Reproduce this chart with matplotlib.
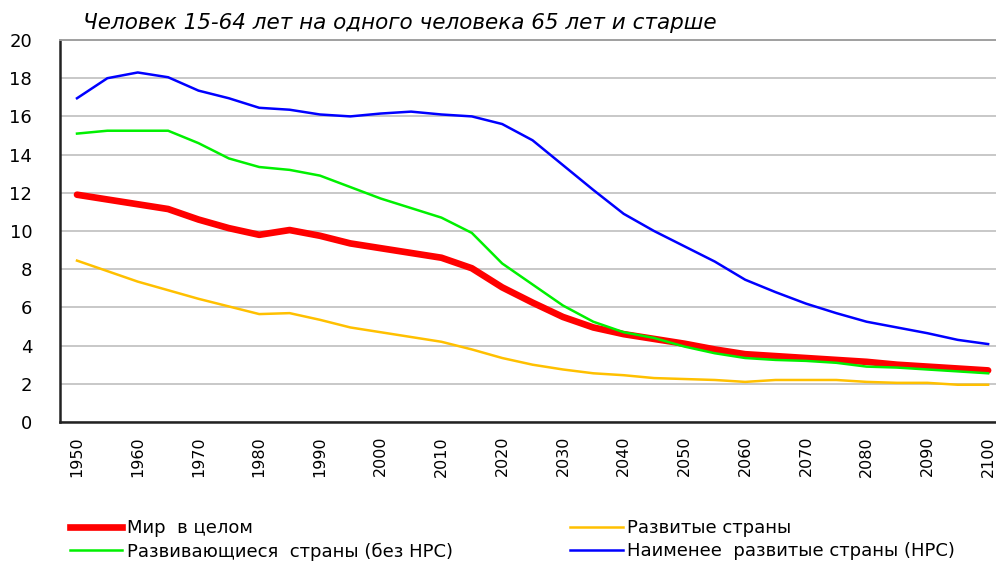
import matplotlib
matplotlib.use("Agg")
import matplotlib.pyplot as plt
from matplotlib.lines import Line2D

years = list(range(1950, 2101, 5))

world = [11.9, 11.65, 11.4, 11.15, 10.6, 10.15, 9.8, 10.05, 9.75, 9.35,
         9.1, 8.85, 8.6, 8.05, 7.05, 6.25, 5.5, 4.95, 4.6, 4.35,
         4.1, 3.8, 3.55, 3.45, 3.35, 3.25, 3.15, 3.0, 2.9, 2.8, 2.7]
developed = [8.45, 7.9, 7.35, 6.9, 6.45, 6.05, 5.65, 5.7, 5.35, 4.95,
             4.7, 4.45, 4.2, 3.8, 3.35, 3.0, 2.75, 2.55, 2.45, 2.3,
             2.25, 2.2, 2.1, 2.2, 2.2, 2.2, 2.1, 2.05, 2.05, 1.95, 1.95]
developing = [15.1, 15.25, 15.25, 15.25, 14.6, 13.8, 13.35, 13.2, 12.9, 12.3,
              11.7, 11.2, 10.7, 9.9, 8.3, 7.2, 6.1, 5.25, 4.7, 4.4,
              3.95, 3.6, 3.35, 3.25, 3.2, 3.1, 2.9, 2.85, 2.75, 2.65, 2.55]
least = [16.95, 18.0, 18.3, 18.05, 17.35, 16.95, 16.45, 16.35, 16.1, 16.0,
         16.15, 16.25, 16.1, 16.0, 15.6, 14.75, 13.45, 12.15, 10.9, 10.0,
         9.2, 8.4, 7.45, 6.8, 6.2, 5.7, 5.25, 4.95, 4.65, 4.3, 4.08]

labels = ["Мир  в целом", "Развивающиеся  страны (без НРС)",
          "Развитые страны", "Наименее  развитые страны (НРС)"]
title = "Человек 15-64 лет на одного человека 65 лет и старше"
x_ticks = list(range(1950, 2101, 10))
y_ticks = list(range(0, 21, 2))

plt.rcParams['font.family'] = ['DejaVu Sans']

fig = plt.figure(figsize=(9.96, 5.63), dpi=100)
ax = fig.add_axes([60/996, (563-422)/563, (996-60)/996, (422-40)/563])

c_world, c_dev, c_devg, c_least = "#ff0000", "#ffc000", "#00f000", "#0000ff"
ax.plot(years, developed, color=c_dev, lw=1.8, zorder=3)
ax.plot(years, least, color=c_least, lw=1.8, zorder=3)
ax.plot(years, developing, color=c_devg, lw=1.8, zorder=4)
ax.plot(years, world, color=c_world, lw=4.8, zorder=3, solid_capstyle='round')

ax.set_xlim(1947.2, 2101.3)
ax.set_ylim(0, 20)
ax.set_yticks(y_ticks)
ax.set_yticklabels([str(v) for v in y_ticks], fontsize=13)
ax.set_xticks(x_ticks)
ax.set_xticklabels([str(v) for v in x_ticks], fontsize=11.5, rotation=90)
ax.tick_params(length=0)
ax.tick_params(axis='y', pad=20)
ax.tick_params(axis='x', pad=10)
ax.grid(axis='y', color='#c8c8c8', lw=1.4)
ax.set_axisbelow(True)
for s in ['left', 'bottom']:
    ax.spines[s].set_color('#222222')
    ax.spines[s].set_linewidth(1.8)
ax.spines['top'].set_color('#a0a0a0')
ax.spines['top'].set_linewidth(1.4)
ax.spines['right'].set_visible(False)

fig.text(83/996, 1 - 23/563, title, fontsize=15.5, style='italic',
         va='center', ha='left')

handles = [Line2D([], [], color=c_world, lw=4.8),
           Line2D([], [], color=c_devg, lw=1.8),
           Line2D([], [], color=c_dev, lw=1.8),
           Line2D([], [], color=c_least, lw=1.8)]
fig.legend(handles, labels, ncol=2, loc='upper left',
           bbox_to_anchor=(70/996, 1 - 519/563), frameon=False,
           fontsize=13, handlelength=2.9, handletextpad=0.25,
           columnspacing=6.5, labelspacing=0.3, borderaxespad=0, borderpad=0)

fig.savefig("out.png", dpi=100)
